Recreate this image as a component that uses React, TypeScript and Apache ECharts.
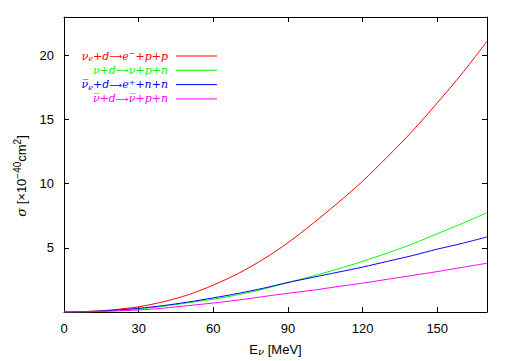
import React, { useEffect, useRef } from "react";
import * as echarts from "echarts";

const energies = [0, 10, 20, 30, 40, 50, 60, 70, 80, 90, 100, 110, 120, 130, 140, 150, 160, 170];
const sigmaNueCC = [0, 0.05, 0.18, 0.41, 0.8, 1.35, 2.1, 3.0, 4.1, 5.4, 6.9, 8.5, 10.2, 12.1, 14.1, 16.3, 18.6, 21.1];
const sigmaNuNC = [0, 0.02, 0.1, 0.24, 0.45, 0.72, 1.0, 1.35, 1.78, 2.3, 2.8, 3.35, 3.95, 4.6, 5.3, 6.1, 6.9, 7.75];
const sigmaNuebarCC = [0, 0.03, 0.13, 0.29, 0.5, 0.78, 1.1, 1.45, 1.85, 2.3, 2.7, 3.1, 3.5, 3.95, 4.4, 4.9, 5.35, 5.85];
const sigmaNubarNC = [0, 0.02, 0.08, 0.16, 0.3, 0.5, 0.7, 0.93, 1.2, 1.46, 1.7, 1.98, 2.25, 2.55, 2.85, 3.15, 3.48, 3.8];

const seriesNames = [
  "{i|ν}{s|e}{i|+d}{a|⟶}{i|e}{u|−}{i|+p+p}",
  "{i|ν+d}{a|⟶}{i|ν+p+n}",
  "{i|ν̅}{s|e}{i|+d}{a|⟶}{i|e}{u|+}{i|+n+n}",
  "{i|ν̅+d}{a|⟶}{i|ν̅+p+n}",
];
const seriesColors = ["#ff0000", "#00ff00", "#0000ff", "#ff00ff"];
const seriesValues = [sigmaNueCC, sigmaNuNC, sigmaNuebarCC, sigmaNubarNC];

export default function App() {
  const ref = useRef<HTMLDivElement>(null);
  useEffect(() => {
    document.body.style.margin = "0";
    const chart = echarts.init(ref.current!, null, { renderer: "svg" });
    const legendX = 168;
    const legendY0 = 56;
    const legendDy = 14.3;
    const graphic: any[] = [];
    const lf = "DejaVu Serif";
    seriesNames.forEach((name, i) => {
      const y = legendY0 + i * legendDy;
      const c = seriesColors[i];
      graphic.push({
        type: "text",
        x: legendX,
        y,
        style: {
          text: name,
          align: "right",
          verticalAlign: "middle",
          fill: c,
          rich: {
            i: { fontFamily: lf, fontStyle: "italic", fontSize: 11, fill: c },
            a: { fontFamily: "DejaVu Sans", fontSize: 9, fill: c },
            s: { fontFamily: lf, fontStyle: "italic", fontSize: 8, fill: c, verticalAlign: "bottom", padding: [5, 0, 0, 0] },
            u: { fontFamily: lf, fontStyle: "italic", fontSize: 8, fill: c, verticalAlign: "top", padding: [0, 0, 5, 0] },
          },
        },
      });
      graphic.push({
        type: "line",
        shape: { x1: 176, y1: y, x2: 217, y2: y },
        style: { stroke: c, lineWidth: 1 },
      });
    });
    graphic.push({
      type: "text",
      x: 21,
      y: 176,
      rotation: Math.PI / 2,
      style: {
        text: "{g|σ} [×10{u|−40}cm{u|2}]",
        align: "center",
        verticalAlign: "middle",
        fill: "#000",
        rich: {
          g: { fontFamily: "DejaVu Serif", fontStyle: "italic", fontSize: 13, fill: "#000" },
          u: { fontFamily: "Liberation Sans", fontSize: 10, fill: "#000", verticalAlign: "top", padding: [0, 0, 8, 0] },
        },
        font: "13px Liberation Sans",
      },
    });

    const axisLine = { show: true, onZero: false, lineStyle: { color: "#000", width: 1 } };
    const axisTick = { show: true, inside: true, length: 5, lineStyle: { color: "#000" } };
    chart.setOption({
      animation: false,
      grid: { left: 64, top: 17, right: 18, bottom: 49, containLabel: false },
      xAxis: [
        {
          type: "value",
          min: 0,
          max: 170,
          interval: 30,
          axisLine,
          axisTick,
          splitLine: { show: false },
          axisLabel: {
            fontFamily: "Liberation Sans",
            fontSize: 13,
            color: "#000",
            margin: 10,
            showMaxLabel: false,
            formatter: (v: number) => (v % 30 === 0 ? String(v) : ""),
          },
          name: "E{g|ν} [MeV]",
          nameLocation: "middle",
          nameGap: 30,
          nameTextStyle: {
            fontFamily: "Liberation Sans",
            fontSize: 13,
            color: "#000",
            rich: { g: { fontFamily: "DejaVu Serif", fontStyle: "italic", fontSize: 10, color: "#000", verticalAlign: "bottom", padding: [4, 0, 0, 0] } },
          },
        },
        {
          type: "value",
          position: "top",
          min: 0,
          max: 170,
          interval: 30,
          axisLine,
          axisTick,
          splitLine: { show: false },
          axisLabel: { show: false },
        },
      ],
      yAxis: [
        {
          type: "value",
          min: 0,
          max: 23,
          interval: 5,
          axisLine,
          axisTick,
          splitLine: { show: false },
          axisLabel: {
            fontFamily: "Liberation Sans",
            fontSize: 13,
            color: "#000",
            margin: 10,
            showMaxLabel: false,
            formatter: (v: number) => (v !== 0 && v % 5 === 0 ? String(v) : ""),
          },
        },
        {
          type: "value",
          position: "right",
          min: 0,
          max: 23,
          interval: 5,
          axisLine,
          axisTick,
          splitLine: { show: false },
          axisLabel: { show: false },
        },
      ],
      series: seriesValues.map((vals, i) => ({
        type: "line",
        name: seriesNames[i],
        data: energies.map((e, j) => [e, vals[j]]),
        smooth: 0.3,
        showSymbol: false,
        symbol: "none",
        lineStyle: { color: seriesColors[i], width: 1 },
        itemStyle: { color: seriesColors[i] },
        clip: true,
      })),
      graphic,
    });
    return () => chart.dispose();
  }, []);
  return <div ref={ref} style={{ width: 505, height: 361 }} />;
}
